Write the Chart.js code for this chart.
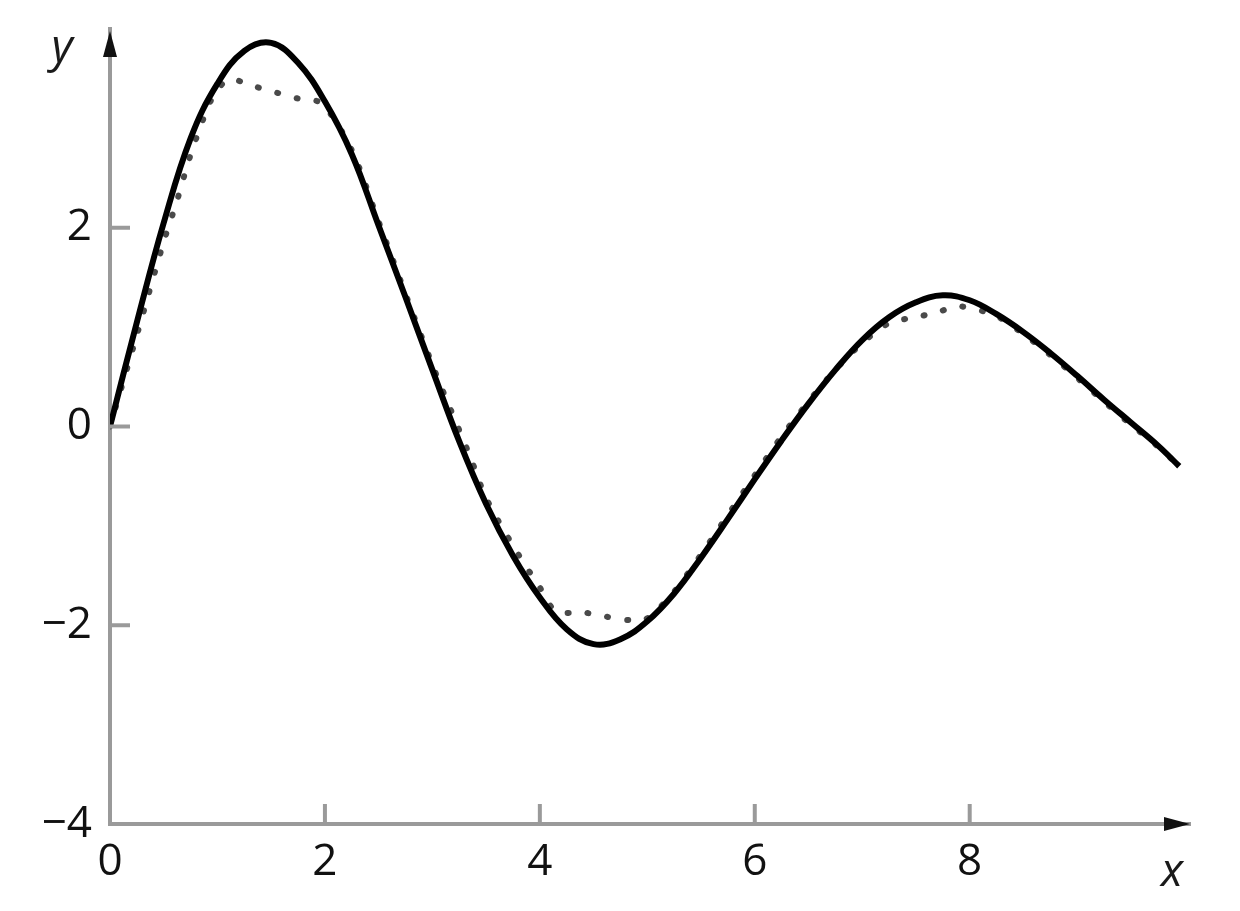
<!DOCTYPE html>
<html>
<head>
<meta charset="utf-8">
<script src="https://cdn.jsdelivr.net/npm/chart.js@4.4.1/dist/chart.umd.min.js"></script>
<style>
  html, body { margin: 0; padding: 0; background: #fff; }
  #wrap { width: 1240px; height: 911px; position: relative; }
</style>
</head>
<body>
<div id="wrap"><canvas id="curveChart"></canvas></div>
<script>
// exact curve (solid)
const xSolid = [0, 0.25, 0.5, 0.75, 1, 1.25, 1.5, 1.75, 2, 2.25, 2.5, 2.75, 3, 3.25, 3.5, 3.75, 4, 4.25, 4.5, 4.75,
  5, 5.25, 5.5, 5.75, 6, 6.25, 6.5, 6.75, 7, 7.25, 7.5, 7.75, 8, 8.25, 8.5, 8.75, 9, 9.25, 9.5, 9.75, 9.95];
const ySolid = [0, 1.05, 2.05, 2.9, 3.45, 3.78, 3.86, 3.66, 3.27, 2.74, 2.02, 1.3, 0.57, -0.15, -0.78, -1.3, -1.72, -2.04, -2.19, -2.14,
  -1.96, -1.68, -1.32, -0.93, -0.53, -0.14, 0.23, 0.57, 0.87, 1.1, 1.25, 1.32, 1.27, 1.13, 0.95, 0.74, 0.51, 0.27, 0.04, -0.19, -0.4];

// approximation (dotted)
const xDotted = [0, 0.25, 0.5, 0.62, 0.74, 0.87, 0.95, 1.1, 1.35, 1.55, 1.75, 1.97, 2.25, 2.5, 3, 3.35, 3.5, 3.75, 4, 4.15,
  4.4, 4.6, 4.85, 5, 5.25, 5.5, 5.75, 6, 6.25, 6.5, 6.75, 7, 7.25, 7.5, 7.7, 7.9, 8.25, 8.5, 8.75, 9, 9.25, 9.5, 9.75, 9.95];
const yDotted = [0, 0.92, 1.86, 2.26, 2.7, 3.1, 3.3, 3.49, 3.42, 3.36, 3.3, 3.25, 2.78, 2.06, 0.62, -0.3, -0.72, -1.2, -1.62, -1.86,
  -1.87, -1.91, -1.95, -1.93, -1.66, -1.29, -0.89, -0.49, -0.1, 0.25, 0.57, 0.84, 1.04, 1.1, 1.15, 1.21, 1.11, 0.93, 0.72, 0.49, 0.25, 0.02, -0.2, -0.4];

const xTicks = [0, 2, 4, 6, 8];
const yTicks = [-4, -2, 0, 2];

const toPoints = (xs, ys) => xs.map((x, i) => ({ x: x, y: ys[i] }));

const labelFont = { family: "'Open Sans', 'Noto Sans', sans-serif", size: 44, weight: '500' };
const axisColor = '#9a9a9a';

// arrows, inward tick marks and axis letters
const axesDecor = {
    id: 'axesDecor',
    afterDraw(chart) {
        const c = chart.ctx;
        const a = chart.chartArea;
        const xs = chart.scales.x;
        const ys = chart.scales.y;
        c.save();
        c.strokeStyle = axisColor;
        c.lineWidth = 4;
        xTicks.forEach(v => {
            if (v === 0) return;
            const px = xs.getPixelForValue(v);
            c.beginPath();
            c.moveTo(px, a.bottom);
            c.lineTo(px, a.bottom - 20);
            c.stroke();
        });
        yTicks.forEach(v => {
            if (v === -4) return;
            const py = ys.getPixelForValue(v);
            c.beginPath();
            c.moveTo(a.left, py);
            c.lineTo(a.left + 20, py);
            c.stroke();
        });
        // arrow heads
        c.fillStyle = '#111';
        c.beginPath();
        c.moveTo(a.left, a.top + 2);
        c.lineTo(a.left - 7, a.top + 28);
        c.lineTo(a.left + 7, a.top + 28);
        c.closePath();
        c.fill();
        c.beginPath();
        c.moveTo(a.right, a.bottom);
        c.lineTo(a.right - 26, a.bottom - 7);
        c.lineTo(a.right - 26, a.bottom + 7);
        c.closePath();
        c.fill();
        // axis letters
        c.fillStyle = '#1a1a1a';
        c.font = "italic 46px 'Open Sans', 'Noto Sans', sans-serif";
        c.textAlign = 'center';
        c.textBaseline = 'alphabetic';
        c.fillText('y', 62, 62);
        c.fillText('x', 1172, 886);
        c.restore();
    }
};

new Chart(document.getElementById('curveChart').getContext('2d'), {
    type: 'line',
    data: {
        datasets: [
            {
                label: 'exact',
                data: toPoints(xSolid, ySolid),
                borderColor: '#000',
                borderWidth: 6,
                pointRadius: 0,
                tension: 0.4,
                order: 0
            },
            {
                label: 'approx',
                data: toPoints(xDotted, yDotted),
                borderColor: '#4a4a4a',
                borderWidth: 6,
                borderDash: [1, 19],
                borderCapStyle: 'round',
                pointRadius: 0,
                tension: 0.3,
                order: 1
            }
        ]
    },
    options: {
        responsive: true,
        maintainAspectRatio: false,
        animation: false,
        layout: { padding: { top: 29, right: 50, left: 0, bottom: 0 } },
        plugins: { legend: { display: false }, tooltip: { enabled: false } },
        scales: {
            x: {
                type: 'linear',
                min: 0,
                max: 10.05,
                afterBuildTicks: s => { s.ticks = xTicks.map(v => ({ value: v })); },
                afterFit: s => { s.height = 87; s.paddingLeft = 0; s.paddingRight = 0; },
                grid: { display: false, drawTicks: false },
                border: { display: true, color: axisColor, width: 4 },
                ticks: { font: labelFont, color: '#111', padding: 12, maxRotation: 0, autoSkip: false }
            },
            y: {
                min: -4,
                max: 4,
                afterBuildTicks: s => { s.ticks = yTicks.map(v => ({ value: v })); },
                afterFit: s => { s.width = 110; s.paddingTop = 0; s.paddingBottom = 0; },
                grid: { display: false, drawTicks: false },
                border: { display: true, color: axisColor, width: 4 },
                ticks: {
                    font: labelFont,
                    color: '#111',
                    padding: 18,
                    autoSkip: false,
                    callback: v => (v < 0 ? '\u2212' + Math.abs(v) : String(v))
                }
            }
        }
    },
    plugins: [axesDecor]
});
</script>
</body>
</html>
